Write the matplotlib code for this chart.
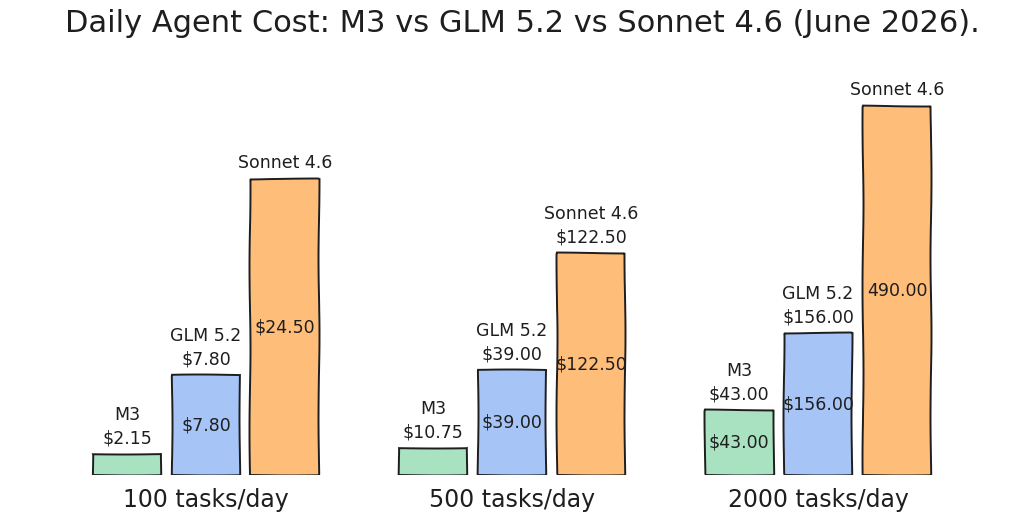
import numpy as np
import matplotlib
matplotlib.use("Agg")
import matplotlib.pyplot as plt

# --- data ---
groups = ["100 tasks/day", "500 tasks/day", "2000 tasks/day"]
models = ["M3", "GLM 5.2", "Sonnet 4.6"]

m3_cost = [2.15, 10.75, 43.00]
glm_cost = [7.80, 39.00, 156.00]
sonnet_cost = [24.50, 122.50, 490.00]

# the sketch is not drawn to scale: bar heights as drawn (arbitrary units)
m3_drawn = [21, 27, 65]
glm_drawn = [100, 105, 142]
sonnet_drawn = [296, 222, 369]

# which labels the sketch shows (top = name + value, inner = value in the bar)
top_value_shown = {"M3": [True, True, True],
                   "GLM 5.2": [True, True, True],
                   "Sonnet 4.6": [False, True, False]}
inner_labels = {"M3": ["", "", "$43.00"],
                "GLM 5.2": ["$7.80", "$39.00", "$156.00"],
                "Sonnet 4.6": ["$24.50", "$122.50", "490.00"]}

COL = {"M3": "#a8e2c0", "GLM 5.2": "#a7c4f6", "Sonnet 4.6": "#ffbd7a"}
INK = "#1e1e1e"

costs = {"M3": m3_cost, "GLM 5.2": glm_cost, "Sonnet 4.6": sonnet_cost}
drawn = {"M3": m3_drawn, "GLM 5.2": glm_drawn, "Sonnet 4.6": sonnet_drawn}

fig = plt.figure(figsize=(10.24, 5.12), dpi=100)
fig.patch.set_facecolor("white")
ax = fig.add_axes([0, 0.072, 1, 0.81])
ax.set_xlim(-0.673, 2.673)
ax.set_ylim(0, 415)
ax.axis("off")

x = np.arange(len(groups))
width = 0.225
offsets = [-0.258, 0.0, 0.258]

for off, m in zip(offsets, models):
    bars = ax.bar(x + off, drawn[m], width, color=COL[m], edgecolor=INK,
                  linewidth=1.4, zorder=2)
    for b in bars:
        b.set_sketch_params(scale=0.5, length=180, randomness=2)
    for i, b in enumerate(bars):
        cx = b.get_x() + b.get_width() / 2
        h = b.get_height()
        top = m + (f"\n${costs[m][i]:.2f}" if top_value_shown[m][i] else "")
        ax.annotate(top, (cx, h), xytext=(0, 5), textcoords="offset points",
                    ha="center", va="bottom", fontsize=12.5, color=INK,
                    linespacing=1.35)
        if inner_labels[m][i]:
            ax.text(cx, h / 2, inner_labels[m][i], ha="center", va="center",
                    fontsize=12.5, color=INK, zorder=3)

for gx, g in zip(x, groups):
    ax.text(gx, -25, g, ha="center", va="center", fontsize=17, color=INK,
            clip_on=False)

fig.text(0.51, 0.955, "Daily Agent Cost: M3 vs GLM 5.2 vs Sonnet 4.6 (June 2026).",
         ha="center", va="center", fontsize=22, color=INK)

fig.savefig("out.png", dpi=100, facecolor="white")
